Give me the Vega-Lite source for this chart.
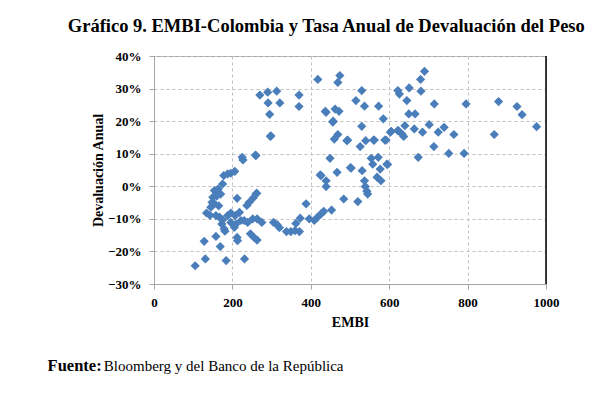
{
  "$schema": "https://vega.github.io/schema/vega-lite/v6.json",
  "background": "white",
  "padding": {"left": 47, "top": 16, "right": 10, "bottom": 10},
  "config": {
    "font": "Liberation Serif",
    "view": {"stroke": "#a6a6a6", "strokeWidth": 1},
    "axis": {
      "labelFont": "Liberation Serif",
      "labelFontWeight": "bold",
      "labelFontSize": 13,
      "labelColor": "#000000",
      "titleFont": "Liberation Serif",
      "titleFontWeight": "bold",
      "titleFontSize": 14,
      "titleColor": "#000000",
      "gridColor": "#bfbfbf",
      "gridDash": [3, 3],
      "gridWidth": 1,
      "domainColor": "#a6a6a6",
      "tickColor": "#a6a6a6",
      "tickSize": 5
    }
  },
  "title": {
    "text": "Fuente:",
    "subtitle": "\u200b\u00a0\u00a0\u00a0\u00a0\u00a0\u00a0\u00a0\u00a0\u00a0\u00a0\u00a0\u00a0\u00a0\u00a0\u00a0Bloomberg y del Banco de la República",
    "orient": "bottom",
    "anchor": "start",
    "frame": "bounds",
    "font": "Liberation Serif",
    "fontSize": 16.5,
    "fontWeight": "bold",
    "color": "#000000",
    "subtitleFont": "Liberation Serif",
    "subtitleFontSize": 15,
    "subtitleFontWeight": "normal",
    "subtitleColor": "#000000",
    "subtitlePadding": -15.5,
    "offset": 28,
    "dx": -19
  },
  "vconcat": [
    {
      "title": {
        "text": "Gráfico 9. EMBI-Colombia y Tasa Anual de Devaluación del Peso",
        "anchor": "middle",
        "frame": "bounds",
        "font": "Liberation Serif",
        "fontSize": 18.5,
        "fontWeight": "bold",
        "color": "#000000",
        "offset": 15,
        "dx": 1
      },
      "width": 392,
      "height": 228,
      "layer": [
        {
          "data": {
            "values": [
              {"EMBI": 105, "Dev": -0.244}, {"EMBI": 131, "Dev": -0.223}, {"EMBI": 128, "Dev": -0.169}, {"EMBI": 158, "Dev": -0.154},
              {"EMBI": 169, "Dev": -0.185}, {"EMBI": 184, "Dev": -0.228}, {"EMBI": 231, "Dev": -0.223}, {"EMBI": 212, "Dev": -0.157},
              {"EMBI": 213, "Dev": -0.167}, {"EMBI": 181, "Dev": -0.138}, {"EMBI": 134, "Dev": -0.082}, {"EMBI": 143, "Dev": -0.089},
              {"EMBI": 178, "Dev": 0.033}, {"EMBI": 188, "Dev": 0.038}, {"EMBI": 196, "Dev": 0.040}, {"EMBI": 206, "Dev": 0.046},
              {"EMBI": 175, "Dev": 0.007}, {"EMBI": 164, "Dev": -0.008}, {"EMBI": 154, "Dev": -0.013}, {"EMBI": 170, "Dev": -0.024},
              {"EMBI": 150, "Dev": -0.034}, {"EMBI": 148, "Dev": -0.049}, {"EMBI": 154, "Dev": -0.054}, {"EMBI": 145, "Dev": -0.064},
              {"EMBI": 160, "Dev": -0.030}, {"EMBI": 165, "Dev": -0.060}, {"EMBI": 158, "Dev": -0.090}, {"EMBI": 212, "Dev": -0.037},
              {"EMBI": 262, "Dev": -0.021}, {"EMBI": 253, "Dev": -0.036}, {"EMBI": 243, "Dev": -0.049}, {"EMBI": 237, "Dev": -0.059},
              {"EMBI": 167, "Dev": -0.095}, {"EMBI": 175, "Dev": -0.103}, {"EMBI": 188, "Dev": -0.090}, {"EMBI": 196, "Dev": -0.082},
              {"EMBI": 207, "Dev": -0.090}, {"EMBI": 218, "Dev": -0.080}, {"EMBI": 222, "Dev": -0.105}, {"EMBI": 209, "Dev": -0.116},
              {"EMBI": 196, "Dev": -0.111}, {"EMBI": 179, "Dev": -0.131}, {"EMBI": 173, "Dev": -0.116}, {"EMBI": 205, "Dev": -0.126},
              {"EMBI": 230, "Dev": -0.105}, {"EMBI": 239, "Dev": -0.111}, {"EMBI": 252, "Dev": -0.100}, {"EMBI": 263, "Dev": -0.100},
              {"EMBI": 275, "Dev": -0.111}, {"EMBI": 246, "Dev": -0.146}, {"EMBI": 256, "Dev": -0.158}, {"EMBI": 263, "Dev": -0.165},
              {"EMBI": 305, "Dev": -0.111}, {"EMBI": 314, "Dev": -0.118}, {"EMBI": 320, "Dev": -0.127}, {"EMBI": 338, "Dev": -0.139},
              {"EMBI": 349, "Dev": -0.139}, {"EMBI": 360, "Dev": -0.136}, {"EMBI": 371, "Dev": -0.139}, {"EMBI": 362, "Dev": -0.114},
              {"EMBI": 373, "Dev": -0.098}, {"EMBI": 388, "Dev": -0.054}, {"EMBI": 396, "Dev": -0.100}, {"EMBI": 409, "Dev": -0.105},
              {"EMBI": 417, "Dev": -0.095}, {"EMBI": 426, "Dev": -0.085}, {"EMBI": 433, "Dev": -0.077}, {"EMBI": 453, "Dev": -0.073},
              {"EMBI": 270, "Dev": 0.280}, {"EMBI": 290, "Dev": 0.289}, {"EMBI": 313, "Dev": 0.292}, {"EMBI": 291, "Dev": 0.256},
              {"EMBI": 321, "Dev": 0.256}, {"EMBI": 295, "Dev": 0.221}, {"EMBI": 370, "Dev": 0.280}, {"EMBI": 370, "Dev": 0.245},
              {"EMBI": 298, "Dev": 0.155}, {"EMBI": 225, "Dev": 0.089}, {"EMBI": 227, "Dev": 0.081}, {"EMBI": 259, "Dev": 0.096},
              {"EMBI": 418, "Dev": 0.328}, {"EMBI": 426, "Dev": 0.033}, {"EMBI": 439, "Dev": 0.017}, {"EMBI": 439, "Dev": -0.001},
              {"EMBI": 449, "Dev": 0.086}, {"EMBI": 460, "Dev": 0.145}, {"EMBI": 457, "Dev": 0.200}, {"EMBI": 437, "Dev": 0.230},
              {"EMBI": 462, "Dev": 0.237}, {"EMBI": 467, "Dev": 0.043}, {"EMBI": 469, "Dev": 0.319}, {"EMBI": 474, "Dev": 0.340},
              {"EMBI": 472, "Dev": 0.230}, {"EMBI": 469, "Dev": 0.159}, {"EMBI": 492, "Dev": 0.140}, {"EMBI": 501, "Dev": 0.057},
              {"EMBI": 484, "Dev": -0.039}, {"EMBI": 520, "Dev": -0.047}, {"EMBI": 515, "Dev": 0.263}, {"EMBI": 530, "Dev": 0.294},
              {"EMBI": 537, "Dev": 0.246}, {"EMBI": 530, "Dev": 0.184}, {"EMBI": 526, "Dev": 0.122}, {"EMBI": 540, "Dev": 0.140},
              {"EMBI": 560, "Dev": 0.142}, {"EMBI": 573, "Dev": 0.246}, {"EMBI": 585, "Dev": 0.207}, {"EMBI": 589, "Dev": 0.142},
              {"EMBI": 603, "Dev": 0.166}, {"EMBI": 531, "Dev": 0.048}, {"EMBI": 537, "Dev": 0.017}, {"EMBI": 539, "Dev": -0.001},
              {"EMBI": 543, "Dev": -0.015}, {"EMBI": 545, "Dev": -0.024}, {"EMBI": 554, "Dev": 0.086}, {"EMBI": 558, "Dev": 0.068},
              {"EMBI": 572, "Dev": 0.089}, {"EMBI": 577, "Dev": 0.053}, {"EMBI": 569, "Dev": 0.028}, {"EMBI": 579, "Dev": 0.017},
              {"EMBI": 594, "Dev": 0.068}, {"EMBI": 622, "Dev": 0.294}, {"EMBI": 626, "Dev": 0.283}, {"EMBI": 651, "Dev": 0.302},
              {"EMBI": 645, "Dev": 0.263}, {"EMBI": 650, "Dev": 0.222}, {"EMBI": 666, "Dev": 0.222}, {"EMBI": 623, "Dev": 0.171},
              {"EMBI": 632, "Dev": 0.161}, {"EMBI": 640, "Dev": 0.186}, {"EMBI": 637, "Dev": 0.153}, {"EMBI": 664, "Dev": 0.176},
              {"EMBI": 685, "Dev": 0.166}, {"EMBI": 702, "Dev": 0.189}, {"EMBI": 674, "Dev": 0.089}, {"EMBI": 680, "Dev": 0.328},
              {"EMBI": 690, "Dev": 0.353}, {"EMBI": 681, "Dev": 0.292}, {"EMBI": 715, "Dev": 0.253}, {"EMBI": 725, "Dev": 0.166},
              {"EMBI": 740, "Dev": 0.181}, {"EMBI": 765, "Dev": 0.159}, {"EMBI": 714, "Dev": 0.122}, {"EMBI": 752, "Dev": 0.101},
              {"EMBI": 791, "Dev": 0.101}, {"EMBI": 796, "Dev": 0.253}, {"EMBI": 879, "Dev": 0.260}, {"EMBI": 868, "Dev": 0.159},
              {"EMBI": 926, "Dev": 0.245}, {"EMBI": 939, "Dev": 0.220}, {"EMBI": 976, "Dev": 0.183}, {"EMBI": 605, "Dev": 0.169},
              {"EMBI": 456, "Dev": 0.197}, {"EMBI": 439, "Dev": 0.227}, {"EMBI": 596, "Dev": 0.067}, {"EMBI": 424, "Dev": 0.035},
              {"EMBI": 494, "Dev": 0.142}, {"EMBI": 562, "Dev": 0.142}, {"EMBI": 592, "Dev": 0.142}, {"EMBI": 622, "Dev": 0.171},
              {"EMBI": 260, "Dev": 0.094}, {"EMBI": 297, "Dev": 0.153}, {"EMBI": 260, "Dev": -0.024}, {"EMBI": 503, "Dev": 0.056}
            ]
          },
          "mark": {"type": "point", "shape": "diamond", "filled": true, "size": 85, "color": "#4a7ebb", "opacity": 1},
          "encoding": {
            "x": {
              "field": "EMBI", "type": "quantitative",
              "scale": {"domain": [0, 1000], "nice": false},
              "axis": {"title": "EMBI", "values": [0, 200, 400, 600, 800, 1000], "format": "d", "labelFont": "Liberation Serif", "labelPadding": 7, "titlePadding": 6, "labelFlush": false}
            },
            "y": {
              "field": "Dev", "type": "quantitative",
              "scale": {"domain": [-0.3, 0.4], "nice": false},
              "axis": {"title": "Devaluación Anual", "values": [-0.3, -0.2, -0.1, 0, 0.1, 0.2, 0.3, 0.4], "format": ".0%", "labelFont": "Liberation Serif", "labelPadding": 8, "titlePadding": 2, "labelFlush": false}
            }
          }
        },
        {
          "data": {"values": [{"EMBI": 1000}]},
          "mark": {"type": "rule", "color": "#000000", "strokeWidth": 1.5},
          "encoding": {"x": {"field": "EMBI", "type": "quantitative"}}
        }
      ]
    }
  ]
}
